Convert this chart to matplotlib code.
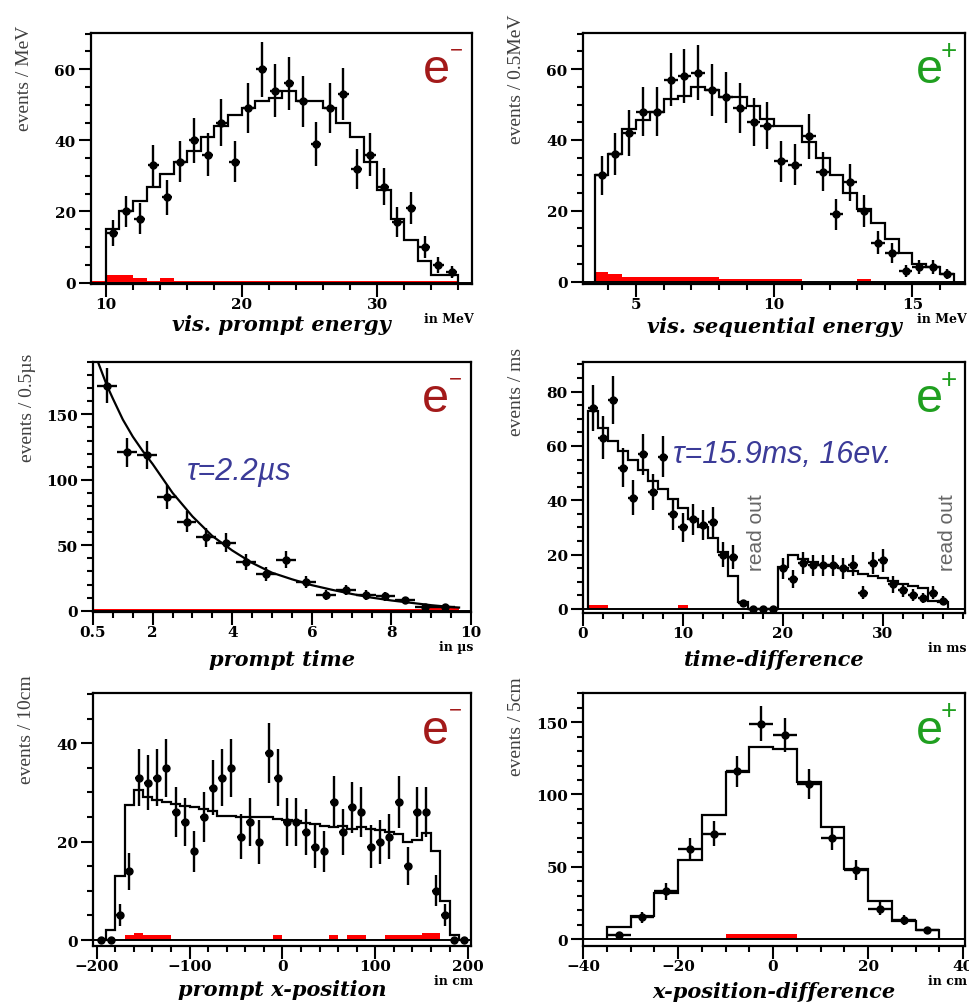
import numpy as np
import matplotlib.pyplot as plt
from matplotlib.ticker import MultipleLocator

# ---- vis. prompt energy (1 MeV bins) ----
prompt_e_x = [10.5, 11.5, 12.5, 13.5, 14.5, 15.5, 16.5, 17.5, 18.5, 19.5, 20.5, 21.5, 22.5,
              23.5, 24.5, 25.5, 26.5, 27.5, 28.5, 29.5, 30.5, 31.5, 32.5, 33.5, 34.5, 35.5]
prompt_e_data = [14, 20, 18, 33, 24, 34, 40, 36, 45, 34, 49, 60, 54,
                 56, 51, 39, 49, 53, 32, 36, 27, 17, 21, 10, 5, 3]
prompt_e_edges = list(range(10, 37))
prompt_e_mc = [15, 20, 23, 27, 30.5, 34, 37, 41, 44, 47, 49, 51, 52,
               54, 51, 51, 49, 45, 41, 34, 26, 18, 12, 6, 2, 2]
prompt_e_bg_edges = [9, 10, 12, 13, 14, 15, 36]
prompt_e_bg = [0.4, 2.2, 1.4, 0.4, 1.2, 0.4]

# ---- vis. sequential energy (0.5 MeV bins) ----
seq_e_x = [3.75, 4.25, 4.75, 5.25, 5.75, 6.25, 6.75, 7.25, 7.75, 8.25, 8.75, 9.25, 9.75,
           10.25, 10.75, 11.25, 11.75, 12.25, 12.75, 13.25, 13.75, 14.25, 14.75, 15.25, 15.75, 16.25]
seq_e_data = [30, 36, 42, 48, 48, 57, 58, 59, 54, 52, 49, 45, 44,
              34, 33, 41, 31, 19, 28, 20, 11, 8, 3, 4, 4, 2]
seq_e_edges = [3.5, 4, 4.5, 5, 5.5, 6, 6.5, 7, 7.5, 8, 8.5, 9, 9.5, 10,
               10.5, 11, 11.5, 12, 12.5, 13, 13.5, 14, 14.5, 15, 15.5, 16, 16.5]
seq_e_mc = [30, 36, 43, 45.5, 48, 51.5, 52.5, 55, 54, 52, 52, 49.6, 46,
            44, 44, 39.5, 35, 30, 25, 20.5, 16.6, 12, 8, 5, 4, 2]
seq_e_bg_edges = [3.5, 4, 4.5, 8, 11, 13, 13.5]
seq_e_bg = [2.6, 2.0, 1.2, 0.7, 0.0, 0.7]

# ---- prompt time (0.5 us bins) ----
ptime_x = [0.85, 1.35, 1.85, 2.35, 2.85, 3.35, 3.85, 4.35, 4.85, 5.35, 5.85, 6.35,
           6.85, 7.35, 7.85, 8.35, 8.85, 9.35]
ptime_data = [172, 121, 119, 87, 68, 56, 52, 37, 28, 39, 22, 12, 16, 12, 11, 8, 3, 3]
ptime_fit_t = [0.55, 0.85, 1.0, 1.25, 1.5, 1.75, 2.0, 2.5, 3.0, 3.5, 4.0, 4.5, 5.0,
               5.5, 6.0, 6.5, 7.0, 7.5, 8.0, 8.5, 9.0, 9.5, 9.7]
ptime_fit_n = [196, 172, 162, 146, 133, 122, 112, 90, 72, 57, 46, 36.5, 29,
               24, 19.5, 16, 12.8, 10, 7.8, 6, 4.2, 2.8, 2.4]
ptime_bg_edges = [0.5, 8.8, 9.7]
ptime_bg = [1.6, 2.5]

# ---- time-difference (1 ms bins) ----
tdiff_x = list(range(1, 37))
tdiff_data = [74, 63, 77, 52, 41, 57, 43, 56, 35, 30, 33, 31, 32, 20, 19, 2, 0, 0,
              0, 15, 11, 17, 16, 16, 16, 15, 16, 6, 17, 18, 9, 7, 5, 4, 6, 3]
tdiff_edges = [e + 0.5 for e in range(0, 37)]
tdiff_mc = [73, 66.5, 62, 58, 55, 51, 47, 44, 40.5, 37, 33, 30, 26, 21, 12.3, 2.7, 0, 0,
            0, 15.3, 20, 18.4, 17.2, 16.2, 15.7, 15, 14, 12.9, 12, 11.3, 10.2, 9.2, 8.3, 7.6, 3, 2.7]
tdiff_bg_edges = [0.5, 2.5, 9.5, 10.5]
tdiff_bg = [1.6, 0, 1.6]

# ---- prompt x-position (10 cm bins) ----
xpos_x = list(range(-195, 200, 10))
xpos_data = [0, 0, 5, 14, 33, 32, 33, 35, 26, 24, 18, 25, 31, 33, 35, 21, 24, 20, 38, 33,
             24, 24, 22, 19, 18, 28, 22, 27, 26, 19, 20, 21, 28, 15, 26, 26, 10, 5, 0, 0]
xpos_edges = list(range(-200, 201, 10))
xpos_mc = [0, 2, 13, 27.5, 30.5, 29, 28.4, 28, 27.6, 27.3, 27, 26.7, 26.2, 25.2, 25.2,
           25.1, 25.1, 25, 25, 24.7, 24.4, 24.2, 23.8, 23.5, 23.2, 23, 23.2, 22.6, 23, 22.5,
           22.4, 22, 21.5, 20, 20.4, 21.8, 18, 8, 1, 0]
xpos_bg = [0, 0, 0, 1.0, 1.5, 1.0, 1.0, 1.0, 0, 0, 0, 0, 0, 0, 0, 0, 0, 0, 0, 1.0,
           0, 0, 0, 0, 0, 1.0, 0, 1.0, 1.0, 0, 0, 1.0, 1.0, 1.0, 1.0, 1.5, 1.5, 0, 0, 0]

# ---- x-position-difference (5 cm bins) ----
xdiff_x = [-32.5, -27.5, -22.5, -17.5, -12.5, -7.5, -2.5, 2.5, 7.5, 12.5, 17.5, 22.5, 27.5, 32.5]
xdiff_data = [3, 15, 33, 62, 73, 116, 149, 141, 107, 70, 48, 21, 13, 6]
xdiff_edges = list(range(-35, 36, 5))
xdiff_mc = [8, 16, 31.6, 55, 86, 115.5, 133, 131.6, 108.5, 77.4, 48.5, 26, 12.7, 6.5]
xdiff_bg_edges = [-10, 5]
xdiff_bg = [3.2]

RED = "#a31a1a"
GREEN = "#1f9f1f"
BLUE = "#3b3b98"
W, H = 970, 1004

fig = plt.figure(figsize=(9.7, 10.04), dpi=100)


def add_axes(l, r, t, b):
    return fig.add_axes([l / W, 1 - b / H, (r - l) / W, (b - t) / H])


def draw(ax, x, y, xerr, edges, mc, bg_edges, bg):
    ax.stairs(bg, bg_edges, fill=True, color="red", lw=0, zorder=1)
    ax.axhline(0, color="black", lw=1.4, zorder=2)
    if edges is not None:
        ax.stairs(mc, edges, color="black", lw=1.6, zorder=2)
    y = np.array(y, dtype=float)
    ax.errorbar(x, y, yerr=np.sqrt(y), xerr=xerr, fmt="o", color="black", ms=5,
                elinewidth=1.7, capsize=0, zorder=3)


def style(ax, xlim, ylim, xmaj, xmin, ymaj, ymin, ylabel, ylab_y, xlabel, xlab_y, unit, charge):
    ax.set_xlim(*xlim)
    ax.set_ylim(*ylim)
    ax.xaxis.set_major_locator(MultipleLocator(xmaj))
    ax.xaxis.set_minor_locator(MultipleLocator(xmin))
    ax.yaxis.set_major_locator(MultipleLocator(ymaj))
    ax.yaxis.set_minor_locator(MultipleLocator(ymin))
    for s in ax.spines.values():
        s.set_linewidth(1.6)
    ax.tick_params(which="both", direction="out", width=1.5, top=False, right=False)
    ax.tick_params(which="major", length=9, pad=2)
    ax.tick_params(axis="x", which="major", pad=0.5)
    ax.tick_params(which="minor", length=4.5)
    for lab in ax.get_xticklabels() + ax.get_yticklabels():
        lab.set_fontfamily("DejaVu Serif")
        lab.set_fontweight("bold")
        lab.set_fontsize(11)
    ax.text(-66 / ax.bbox.width, ylab_y, ylabel, transform=ax.transAxes, rotation=90,
            ha="center", va="center", fontsize=14, family="Liberation Serif", color="#404040")
    ax.text(0.5, -xlab_y, xlabel, transform=ax.transAxes, ha="center", va="center",
            fontsize=15, family="DejaVu Serif", fontweight="bold", style="italic")
    ax.text(1.005, -0.138, unit, transform=ax.transAxes, ha="right", va="center",
            fontsize=9, family="DejaVu Serif", fontweight="bold")
    col = RED if charge == "-" else GREEN
    ax.text(0.871, 0.804, "e", transform=ax.transAxes, ha="left", va="baseline",
            fontsize=35, family="Liberation Sans", color=col)
    if charge == "-":
        ax.text(0.958, 0.932, "\u2212", transform=ax.transAxes, ha="center", va="center",
                fontsize=16, family="Liberation Sans", color=col)
    else:
        ax.text(0.958, 0.929, "+", transform=ax.transAxes, ha="center", va="center",
                fontsize=20, family="Liberation Sans", color=col)


# panel 1: vis. prompt energy
ax1 = add_axes(91, 472, 34, 285)
draw(ax1, prompt_e_x, prompt_e_data, 0.4, prompt_e_edges, prompt_e_mc, prompt_e_bg_edges, prompt_e_bg)
style(ax1, (8.9, 37), (-0.4, 70.2), 10, 2, 20, 5, "events / MeV", 0.825,
      "vis. prompt energy", 0.16, "in MeV", "-")

# panel 2: vis. sequential energy
ax2 = add_axes(583, 965, 34, 285)
draw(ax2, seq_e_x, seq_e_data, 0.25, seq_e_edges, seq_e_mc, seq_e_bg_edges, seq_e_bg)
style(ax2, (3.08, 16.9), (-0.7, 70.2), 5, 1, 20, 5, "events / 0.5MeV", 0.82,
      "vis. sequential energy", 0.168, "in MeV", "+")

# panel 3: prompt time
ax3 = add_axes(93, 471, 363, 613)
draw(ax3, ptime_x, ptime_data, 0.25, None, None, ptime_bg_edges, ptime_bg)
ax3.plot(ptime_fit_t, ptime_fit_n, color="black", lw=1.6, zorder=2)
style(ax3, (0.5, 10), (-1, 190), 2, 0.5, 50, 10, "events / 0.5\u00b5s", 0.82,
      "prompt time", 0.188, "in \u00b5s", "-")
ax3.set_xticks([0.5, 2, 4, 6, 8, 10])
ax3.set_xticklabels(["0.5", "2", "4", "6", "8", "10"], family="DejaVu Serif",
                    fontweight="bold", fontsize=11)
ax3.text(0.248, 0.564, "\u03c4=2.2\u00b5s", transform=ax3.transAxes, ha="left", va="center",
         fontsize=22, family="Liberation Sans", style="italic", color=BLUE)

# panel 4: time-difference
ax4 = add_axes(583, 965, 363, 614)
draw(ax4, tdiff_x, tdiff_data, 0.5, tdiff_edges, tdiff_mc, tdiff_bg_edges, tdiff_bg)
style(ax4, (0, 38.2), (-1.5, 90.9), 10, 2, 20, 5, "events / ms", 0.884,
      "time-difference", 0.183, "in ms", "+")
ax4.text(0.236, 0.633, "\u03c4=15.9ms, 16ev.", transform=ax4.transAxes, ha="left", va="center",
         fontsize=22, family="Liberation Sans", style="italic", color=BLUE)
for rx in (17.4, 36.5):
    ax4.text(rx, 28.5, "read out", rotation=90, ha="center", va="center",
             fontsize=15, family="Liberation Sans", color="#666666")

# panel 5: prompt x-position
ax5 = add_axes(93, 471, 694, 947)
draw(ax5, xpos_x, xpos_data, 4, xpos_edges, xpos_mc, xpos_edges, xpos_bg)
style(ax5, (-204, 203), (-1.2, 50.2), 100, 20, 20, 5, "events / 10cm", 0.858,
      "prompt x-position", 0.17, "in cm", "-")

# panel 6: x-position-difference
ax6 = add_axes(583, 965, 694, 947)
draw(ax6, xdiff_x, xdiff_data, 2.5, xdiff_edges, xdiff_mc, xdiff_bg_edges, xdiff_bg)
style(ax6, (-40, 40.4), (-4.8, 170.2), 20, 5, 50, 10, "events / 5cm", 0.87,
      "x-position-difference", 0.178, "in cm", "+")

fig.savefig("out.png", dpi=100)
